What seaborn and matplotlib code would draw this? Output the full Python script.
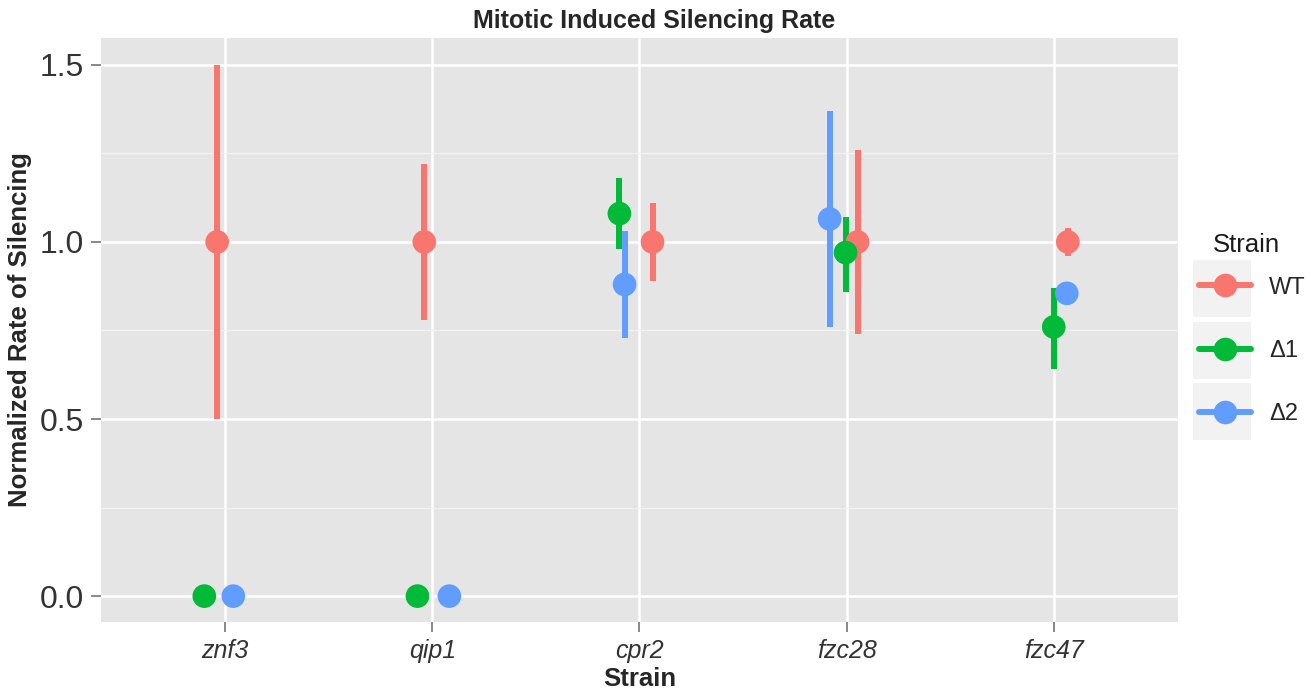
import numpy as np
import pandas as pd
import seaborn as sns
import matplotlib.pyplot as plt
from matplotlib.lines import Line2D
from matplotlib.patches import Rectangle

# data
genes = ["znf3", "qip1", "cpr2", "fzc28", "fzc47"]
strains = ["WT", "Δ1", "Δ2"]

wt_rate = [1.0, 1.0, 1.0, 1.0, 1.0]
wt_lo = [0.50, 0.78, 0.89, 0.74, 0.96]
wt_hi = [1.50, 1.22, 1.11, 1.26, 1.04]

d1_rate = [0.0, 0.0, 1.08, 0.97, 0.76]
d1_lo = [np.nan, np.nan, 0.98, 0.86, 0.64]
d1_hi = [np.nan, np.nan, 1.18, 1.07, 0.87]

d2_rate = [0.0, 0.0, 0.88, 1.065, 0.855]
d2_lo = [np.nan, np.nan, 0.73, 0.76, np.nan]
d2_hi = [np.nan, np.nan, 1.03, 1.37, np.nan]

# horizontal jitter of each point (as drawn in the original)
wt_jit = [-0.039, -0.039, 0.063, 0.053, 0.068]
d1_jit = [-0.101, -0.072, -0.097, -0.005, 0.0]
d2_jit = [0.039, 0.082, -0.072, -0.082, 0.063]

colors = {"WT": "#F8766D", "Δ1": "#00BA38", "Δ2": "#619CFF"}

rows = []
for s, r, lo, hi, jit in [("WT", wt_rate, wt_lo, wt_hi, wt_jit),
                          ("Δ1", d1_rate, d1_lo, d1_hi, d1_jit),
                          ("Δ2", d2_rate, d2_lo, d2_hi, d2_jit)]:
    for i, g in enumerate(genes):
        rows.append(dict(gene=g, strain=s, rate=r[i], lo=lo[i], hi=hi[i],
                         xpos=i + jit[i]))
df = pd.DataFrame(rows)

sns.set_style("darkgrid")
plt.rcParams["font.family"] = ["Liberation Sans", "DejaVu Sans"]

fig = plt.figure(figsize=(13.06, 6.9), dpi=100)
ax = fig.add_axes([0.0773, 0.0986, 0.8247, 0.8464])
ax.set_facecolor("#E5E5E5")

# error bars then points, strain by strain
for s in strains:
    sub = df[df.strain == s]
    ok = sub.dropna(subset=["lo"])
    ax.vlines(ok.xpos, ok.lo, ok.hi, colors=colors[s], lw=4.3, zorder=3)
    sns.scatterplot(data=sub, x="xpos", y="rate", color=colors[s], s=290,
                    edgecolor="none", legend=False, ax=ax, zorder=4)

ax.set_xlim(-0.6, 4.6)
ax.set_ylim(-0.073, 1.576)
ax.set_xticks(range(len(genes)))
ax.set_xticklabels(genes, style="italic", fontsize=18, color="#333333")
ax.set_yticks([0.0, 0.5, 1.0, 1.5])
ax.set_yticklabels(["0.0", "0.5", "1.0", "1.5"], fontsize=23, color="#333333")
ax.set_yticks([0.25, 0.75, 1.25], minor=True)
ax.grid(which="major", color="white", lw=1.8)
ax.grid(which="minor", axis="y", color="#F2F2F2", lw=0.9)
ax.tick_params(axis="both", which="major", length=7, width=1.3, color="#7F7F7F",
               pad=5.5, bottom=True, left=True)
ax.tick_params(which="minor", length=0)
for sp in ax.spines.values():
    sp.set_visible(False)

ax.set_xlabel("Strain", fontsize=18.5, fontweight="bold", labelpad=3)
ax.set_ylabel("Normalized Rate of Silencing", fontsize=18.5, fontweight="bold",
              labelpad=5)
# title is centred on the whole figure, as ggplot did
ax.set_title("Mitotic Induced Silencing Rate", fontsize=18, fontweight="bold", pad=7,
             x=0.514)

# legend with grey key boxes like ggplot
for y0 in [260, 322, 383]:
    fig.patches.append(Rectangle((1193 / 1306, 1 - (y0 + 57) / 690), 58 / 1306, 57 / 690,
                                 transform=fig.transFigure, facecolor="#F2F2F2",
                                 edgecolor="none", zorder=0))
fig.text(1213 / 1306, 1 - 245 / 690, "Strain", fontsize=18.5, va="center", ha="left",
         color="#1A1A1A")
handles = [Line2D([0], [0], color=colors[s], lw=4.3, marker="o", markersize=17,
                  markeredgewidth=0) for s in strains]
fig.legend(handles, strains, loc="center left",
           bbox_to_anchor=(1190 / 1306, 1 - 351 / 690), frameon=False,
           fontsize=17, handlelength=2.2, labelspacing=1.75, handletextpad=0.75,
           borderaxespad=0)

fig.savefig("out.png", dpi=100)
